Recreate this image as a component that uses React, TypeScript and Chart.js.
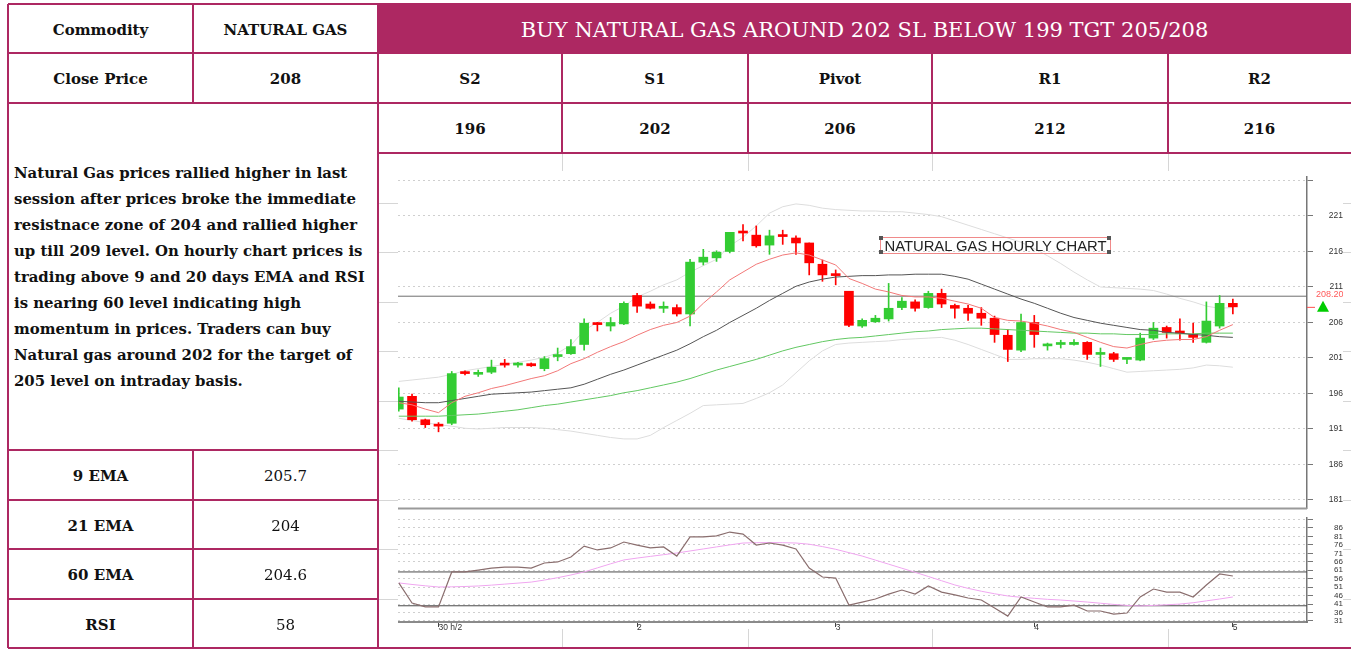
import React, { useEffect, useRef } from 'react';
import { Chart, registerables } from 'chart.js';

Chart.register(...registerables);

// ---------------- data ----------------
const candleOpen = [193.8,195.6,192.3,191.5,191.8,198.9,198.7,199.0,200.1,200.0,200.2,199.5,201.2,201.6,202.9,205.8,205.5,205.8,209.8,208.6,208.0,208.1,207.2,214.5,215.1,216.0,218.8,218.3,216.9,218.3,217.9,217.2,214.2,212.8,210.4,205.5,206.1,206.5,208.1,208.9,208.1,210.1,208.4,208.0,207.3,206.6,204.2,202.1,206.0,202.7,202.9,202.9,203.2,201.5,201.6,200.8,200.7,203.8,205.3,204.8,204.3,203.2,205.5,208.7];
const candleHigh = [196.8,195.9,192.4,191.9,199.1,199.2,199.3,200.7,200.8,200.4,200.3,201.2,202.4,203.6,206.5,206.0,206.7,208.9,210.1,208.9,208.9,208.5,214.9,216.3,216.1,218.7,219.8,219.6,219.0,219.0,218.2,217.2,214.8,213.4,210.4,206.5,207.0,211.5,209.5,209.2,210.4,210.7,208.6,208.4,208.1,206.9,205.0,207.2,207.0,203.1,203.5,203.6,203.3,202.4,201.8,201.0,204.5,206.0,205.5,206.5,205.9,208.9,209.8,209.3];
const candleLow = [193.5,192.1,191.2,190.6,191.6,198.6,198.4,198.8,199.7,199.7,199.8,199.2,200.6,201.5,202.1,204.8,204.8,205.7,207.4,207.9,207.4,206.9,205.5,214.1,214.6,215.8,217.5,216.6,215.6,217.0,215.6,212.7,211.8,211.3,205.4,205.3,206.0,206.2,207.8,207.6,208.0,208.1,206.6,206.3,205.6,203.2,200.5,201.9,202.5,202.1,202.4,202.8,200.8,199.8,200.5,200.2,200.6,203.6,203.8,203.5,203.2,203.1,205.2,207.2];
const candleClose = [195.5,192.3,191.6,191.4,198.8,198.8,198.9,199.7,200.0,200.1,199.9,200.9,201.4,202.6,205.9,205.7,206.0,208.7,208.3,208.0,208.1,207.2,214.5,215.2,215.9,218.7,218.6,216.8,218.2,218.1,217.2,214.4,212.7,212.6,205.6,206.3,206.6,208.0,209.0,208.0,210.1,208.6,208.0,207.3,206.6,204.3,202.2,206.0,204.3,202.9,203.0,203.2,201.5,201.6,200.8,201.0,203.8,205.2,204.6,204.5,203.9,206.2,208.7,208.2];

const ema9 = [194.7,194.4,193.8,193.3,194.7,195.6,196.1,196.7,197.1,197.6,198.1,198.5,199.2,200.2,200.9,201.8,202.6,203.3,204.2,205.0,205.6,206.0,206.9,208.7,210.3,212.0,213.1,214.2,214.9,215.5,215.8,215.5,214.8,214.1,212.2,211.5,210.7,210.3,209.8,209.6,209.6,209.4,209.0,208.6,208.0,206.7,206.3,206.2,205.9,205.5,205.0,204.6,203.9,203.2,202.6,202.4,202.9,203.3,203.5,203.6,203.6,204.0,204.9,205.7];
const ema21 = [194.9,194.8,194.7,194.7,195.0,195.3,195.6,195.9,196.0,196.1,196.2,196.4,196.6,196.8,197.3,198.0,198.7,199.3,200.0,200.7,201.4,202.1,203.0,204.0,204.9,206.0,207.0,208.0,209.1,210.1,211.1,211.7,212.1,212.4,212.5,212.6,212.6,212.7,212.7,212.8,212.8,212.8,212.5,212.1,211.4,210.7,210.0,209.3,208.7,208.0,207.3,206.7,206.3,205.9,205.6,205.3,205.0,204.9,204.6,204.5,204.3,204.2,204.0,203.9];
const ema60 = [192.8,192.8,192.8,192.8,192.9,193.0,193.1,193.3,193.5,193.7,194.0,194.3,194.5,194.8,195.1,195.4,195.7,196.1,196.4,196.8,197.2,197.6,198.1,198.7,199.3,199.8,200.3,200.8,201.4,202.0,202.5,202.9,203.3,203.6,203.8,203.9,204.1,204.3,204.5,204.7,204.8,205.0,205.1,205.2,205.2,205.1,205.0,204.9,204.8,204.7,204.6,204.5,204.5,204.4,204.4,204.3,204.3,204.3,204.4,204.4,204.4,204.5,204.5,204.5];
const bandUpper = [197.7,197.9,198.1,198.3,198.7,199.2,199.5,199.8,200.1,200.4,200.7,201.1,201.7,202.8,204.9,206.0,207.3,208.3,209.6,210.4,211.3,212.0,213.1,214.0,214.9,216.8,218.0,219.6,221.4,222.3,222.7,222.5,222.1,221.9,221.8,221.7,221.7,221.6,221.6,221.4,221.2,220.9,220.3,219.7,219.1,218.5,217.9,217.3,216.4,215.4,214.3,213.1,212.0,211.0,210.9,210.8,210.7,210.5,210.0,209.4,208.9,208.3,208.0,208.1];
const bandLower = [192.5,192.2,191.9,191.6,191.4,191.1,191.0,191.1,191.2,191.2,191.2,191.1,190.9,190.7,190.4,190.1,189.8,189.6,189.6,190.1,191.2,192.2,193.2,194.3,194.4,194.5,194.6,195.3,196.1,197.2,198.9,200.6,202.0,202.9,203.1,203.2,203.3,203.4,203.6,203.7,203.8,203.9,203.5,202.9,202.2,201.5,200.8,200.8,200.9,200.9,200.9,200.7,200.4,200.0,199.5,199.0,199.1,199.2,199.3,199.4,199.6,200.0,199.9,199.7];

const rsiValues = [53.5,41.6,39.3,39.3,60.0,60.0,61.1,62.3,62.9,62.9,62.3,65.3,65.9,68.8,75.3,73.0,74.2,77.7,75.9,74.2,74.8,69.4,80.7,80.7,81.3,83.6,82.4,75.9,77.1,75.9,73.6,62.3,57.0,56.4,40.4,42.2,44.0,46.9,49.3,46.9,51.7,48.1,46.4,44.6,43.4,38.7,33.9,45.2,42.2,39.3,39.3,40.4,36.9,36.9,35.1,35.7,45.2,49.9,48.1,48.1,45.2,52.3,58.8,57.6];
const rsiSignal = [53.5,52.6,51.8,51.1,51.2,51.4,51.7,52.2,52.8,53.4,54.0,55.2,56.6,58.2,60.0,62.4,64.8,67.1,68.2,69.2,70.2,71.2,72.4,73.6,74.8,76.0,77.1,77.3,77.4,77.3,77.1,76.4,75.0,73.4,71.4,69.4,67.0,64.6,62.2,59.8,57.3,54.8,52.3,50.3,48.6,47.1,45.8,45.0,44.4,43.8,43.4,42.8,42.2,41.5,40.8,40.2,39.9,40.2,40.6,41.0,41.8,42.9,44.0,45.2];

const priceTicks = [181, 186, 191, 196, 201, 206, 211, 216, 221, 226];
const rsiTicks = [31, 36, 41, 46, 51, 56, 61, 66, 71, 76, 81, 86, 91];
const timeTickPos = [3, 18, 33, 48, 63];
const timeTickLabels = ['30 h/2', '2', '3', '4', '5'];
const priceRefLevels = [209.7];
const rsiRefLevels = [60, 40];
const lastClose = 208.2;

const levelNames = ['S2', 'S1', 'Pivot', 'R1', 'R2'];
const levelValues = ['196', '202', '206', '212', '216'];
const indicatorNames = ['9 EMA', '21 EMA', '60 EMA', 'RSI'];
const indicatorValues = ['205.7', '204', '204.6', '58'];
const analysisLines = [
  'Natural Gas prices rallied higher in last',
  'session after prices broke the immediate',
  'resistnace zone of 204 and rallied higher',
  'up till 209 level. On hourly chart prices is',
  'trading above 9 and 20 days EMA and RSI',
  'is nearing 60 level indicating high',
  'momentum in prices. Traders can buy',
  'Natural gas around 202 for the target of',
  '205 level on intraday basis.',
];

// axis bounds
const X_MIN = -0.06;
const X_MAX = 68.6;
const PRICE_MIN = 179.87;
const PRICE_MAX = 226.49;
const RSI_MIN = 30.4;
const RSI_MAX = 91.9;

const UP = '#33cc33';
const DOWN = '#ff0000';
const MAROON = '#ad2862';
const SERIF = '"DejaVu Serif", serif';
const SANS = '"Liberation Sans", Arial, sans-serif';

const pts = (arr: number[]) => arr.map((v, i) => ({ x: i, y: v }));
const level = (v: number) => [{ x: X_MIN, y: v }, { x: X_MAX, y: v }];
const lineDs = (data: any, color: string, order: number, width = 1) => ({
  type: 'line', data, borderColor: color, borderWidth: width, pointRadius: 0,
  tension: 0, fill: false, order,
});

const priceOverlay = {
  id: 'priceOverlay',
  afterDraw(chart: any) {
    const { ctx, chartArea: a, scales } = chart;
    ctx.save();
    ctx.strokeStyle = '#9a9a9a';
    ctx.lineWidth = 2;
    ctx.beginPath();
    ctx.moveTo(a.left, a.bottom + 0.5);
    ctx.lineTo(a.right, a.bottom + 0.5);
    ctx.stroke();
    const py = scales.y.getPixelForValue(lastClose);
    const xr = a.right;
    ctx.strokeStyle = '#ff4d4d';
    ctx.lineWidth = 1;
    ctx.beginPath();
    ctx.moveTo(xr, py + 0.5);
    ctx.lineTo(xr + 8, py + 0.5);
    ctx.stroke();
    ctx.fillStyle = '#00cc00';
    ctx.beginPath();
    ctx.moveTo(xr + 10, py + 5);
    ctx.lineTo(xr + 22, py + 5);
    ctx.lineTo(xr + 16, py - 6);
    ctx.closePath();
    ctx.fill();
    ctx.fillStyle = '#ff5a5a';
    ctx.font = '9px ' + SANS;
    ctx.textAlign = 'left';
    ctx.textBaseline = 'middle';
    ctx.fillText(lastClose.toFixed(2), xr + 9, py - 12);
    ctx.restore();
  },
};

export default function App() {
  const priceRef = useRef<HTMLCanvasElement>(null);
  const rsiRef = useRef<HTMLCanvasElement>(null);

  useEffect(() => {
    const idx = candleOpen.map((_, i) => i);
    const colors = idx.map((i) => (candleClose[i] >= candleOpen[i] ? UP : DOWN));

    const price = new Chart(priceRef.current as HTMLCanvasElement, {
      type: 'bar',
      data: {
        datasets: [
          lineDs(pts(bandUpper), '#dddddd', 7),
          lineDs(pts(bandLower), '#dddddd', 7),
          ...priceRefLevels.map((v) => lineDs(level(v), '#6e6e6e', 6)),
          {
            type: 'bar',
            data: idx.map((i) => ({ x: i, y: [candleLow[i], candleHigh[i]] })),
            backgroundColor: colors, barThickness: 1, grouped: false, order: 5,
          },
          {
            type: 'bar',
            data: idx.map((i) => ({ x: i, y: [candleOpen[i], candleClose[i]] })),
            backgroundColor: colors, barThickness: 9, minBarLength: 2, grouped: false, order: 4,
          },
          lineDs(pts(ema60), '#62c862', 2),
          lineDs(pts(ema21), '#555555', 1),
          lineDs(pts(ema9), '#f27878', 0),
        ] as any,
      },
      options: {
        animation: false,
        responsive: false,
        devicePixelRatio: 1,
        events: [],
        layout: { padding: { top: 20, bottom: 20, left: 0, right: 0 } },
        plugins: { legend: { display: false }, tooltip: { enabled: false } },
        scales: {
          x: { type: 'linear', min: X_MIN, max: X_MAX, offset: false, display: false },
          y: {
            position: 'right', min: PRICE_MIN, max: PRICE_MAX,
            afterBuildTicks: (s: any) => { s.ticks = priceTicks.map((v) => ({ value: v })); },
            afterFit: (s: any) => { s.width = 36; },
            ticks: {
              callback: (v: any) => (v === priceTicks[priceTicks.length - 1] ? '' : String(v)),
              font: { family: SANS, size: 8.5 }, color: '#333', padding: 12, crossAlign: 'far', autoSkip: false,
            },
            grid: { color: '#cfcfcf', tickColor: '#777', tickLength: 6, lineWidth: 1 },
            border: { display: true, color: '#777', width: 1.5, dash: [2, 3] },
          },
        },
      } as any,
      plugins: [priceOverlay],
    });

    const rsi = new Chart(rsiRef.current as HTMLCanvasElement, {
      type: 'line',
      data: {
        datasets: [
          ...rsiRefLevels.map((v) => lineDs(level(v), '#4a4a4a', 3)),
          lineDs(pts(rsiSignal), '#f0a6f0', 2),
          lineDs(pts(rsiValues), '#8a6e6e', 1, 1.2),
        ] as any,
      },
      options: {
        animation: false,
        responsive: false,
        devicePixelRatio: 1,
        events: [],
        layout: { padding: { top: 24, bottom: 6, left: 0, right: 0 } },
        plugins: { legend: { display: false }, tooltip: { enabled: false } },
        scales: {
          x: {
            type: 'linear', min: X_MIN, max: X_MAX, offset: false,
            afterBuildTicks: (s: any) => { s.ticks = timeTickPos.map((v) => ({ value: v })); },
            afterFit: (s: any) => { s.height = 18; },
            ticks: {
              callback: (v: any) => { const k = timeTickPos.indexOf(v); return k >= 0 ? timeTickLabels[k] : ''; },
              align: 'start', padding: -4, maxRotation: 0, autoSkip: false,
              font: { family: SANS, size: 8.5 }, color: '#333',
            },
            grid: { drawOnChartArea: false, tickLength: 5, color: '#444' },
            border: { display: true, color: '#8a8a8a', width: 2 },
          },
          y: {
            position: 'right', min: RSI_MIN, max: RSI_MAX,
            afterBuildTicks: (s: any) => { s.ticks = rsiTicks.map((v) => ({ value: v })); },
            afterFit: (s: any) => { s.width = 36; },
            ticks: {
              callback: (v: any) => (v === rsiTicks[rsiTicks.length - 1] ? '' : String(v)),
              font: { family: SANS, size: 8 }, color: '#333', padding: 17, crossAlign: 'far', autoSkip: false,
            },
            grid: { color: '#cfcfcf', tickColor: '#777', tickLength: 6, lineWidth: 1 },
            border: { display: true, color: '#777', width: 1.5, dash: [2, 3] },
          },
        },
      } as any,
    });

    return () => { price.destroy(); rsi.destroy(); };
  }, []);

  const abs = (l: number, t: number, w: number, h: number, extra: any = {}) => ({
    position: 'absolute' as const, left: l, top: t, width: w, height: h, ...extra,
  });
  const cell = (l: number, t: number, r: number, b: number, text: string, bold = true, extra: any = {}) => (
    <div key={`${l}-${t}-${text}`} style={abs(l, t, r - l, b - t, {
      display: 'flex', alignItems: 'center', justifyContent: 'center',
      fontFamily: SERIF, fontWeight: bold ? 'bold' : 'normal', fontSize: 15, color: '#111',
      whiteSpace: 'nowrap', paddingTop: 2, boxSizing: 'border-box', ...extra,
    })}>{text}</div>
  );

  const levelCols = [[378, 562], [562, 748], [748, 932], [932, 1168], [1168, 1351]];
  const indRows = [[450, 500], [500, 549], [549, 599], [599, 648]];
  const grayH = [203, 252, 302, 351, 401, 450, 500, 549, 599];
  const grayV = [562, 748, 932, 1168];
  const hLines: number[][] = [[4, 8, 1351], [53, 8, 1351], [103, 8, 1351], [153, 378, 1351], [450, 8, 378], [500, 8, 378], [549, 8, 378], [599, 8, 378], [648, 8, 1351]];
  const vLines: number[][] = [[8, 4, 648], [193, 4, 103], [193, 450, 648], [378, 4, 648], [562, 53, 153], [748, 53, 153], [932, 53, 153], [1168, 53, 153]];

  return (
    <div style={abs(0, 0, 1351, 651, { background: '#fff', overflow: 'hidden' })}>
      {grayH.map((y) => <div key={'gh' + y} style={abs(378, y, 973, 1, { background: '#d6d6d6' })} />)}
      {grayV.map((x) => <div key={'gv' + x} style={abs(x, 153, 1, 495, { background: '#d6d6d6' })} />)}
      <div style={abs(398, 171, 945, 458, { background: '#fff' })} />
      <canvas ref={priceRef} width={945} height={371} style={{ position: 'absolute', left: 398, top: 157 }} />
      <canvas ref={rsiRef} width={945} height={152} style={{ position: 'absolute', left: 398, top: 494 }} />
      <div style={abs(880, 237, 231, 17, {
        border: '1px solid #f08a8a', boxSizing: 'border-box', display: 'flex', alignItems: 'center',
        justifyContent: 'center', fontFamily: SANS, fontSize: 14.8, color: '#222', whiteSpace: 'nowrap',
      })}>NATURAL GAS HOURLY CHART</div>
      {[[879, 236], [1107, 236], [879, 250], [1107, 250]].map(([x, y]) => (
        <div key={'c' + x + y} style={abs(x, y, 4, 4, { background: '#555' })} />
      ))}

      <div style={abs(378, 4, 973, 49, { background: MAROON })} />
      {cell(378, 4, 1351, 53, 'BUY NATURAL GAS AROUND 202 SL BELOW 199 TGT 205/208', false, { color: '#fff', fontSize: 21 })}
      {cell(8, 4, 193, 53, 'Commodity')}
      {cell(193, 4, 378, 53, 'NATURAL GAS')}
      {cell(8, 53, 193, 103, 'Close Price')}
      {cell(193, 53, 378, 103, '208')}
      {levelCols.map(([l, r], i) => cell(l, 53, r, 103, levelNames[i]))}
      {levelCols.map(([l, r], i) => cell(l, 103, r, 153, levelValues[i]))}
      <div style={abs(14, 160, 362, 240, {
        fontFamily: SERIF, fontWeight: 'bold', fontSize: 14.9, lineHeight: '26px', color: '#111', whiteSpace: 'nowrap',
      })}>
        {analysisLines.map((t, i) => <div key={i}>{t}</div>)}
      </div>
      {indRows.map(([t, b], i) => cell(8, t, 193, b, indicatorNames[i]))}
      {indRows.map(([t, b], i) => cell(193, t, 378, b, indicatorValues[i], false))}

      {hLines.map(([y, x1, x2]) => <div key={'h' + y + x1} style={abs(x1, y - 1, x2 - x1, 2, { background: MAROON })} />)}
      {vLines.map(([x, y1, y2]) => <div key={'v' + x + y1} style={abs(x - 1, y1, 2, y2 - y1, { background: MAROON })} />)}
    </div>
  );
}
